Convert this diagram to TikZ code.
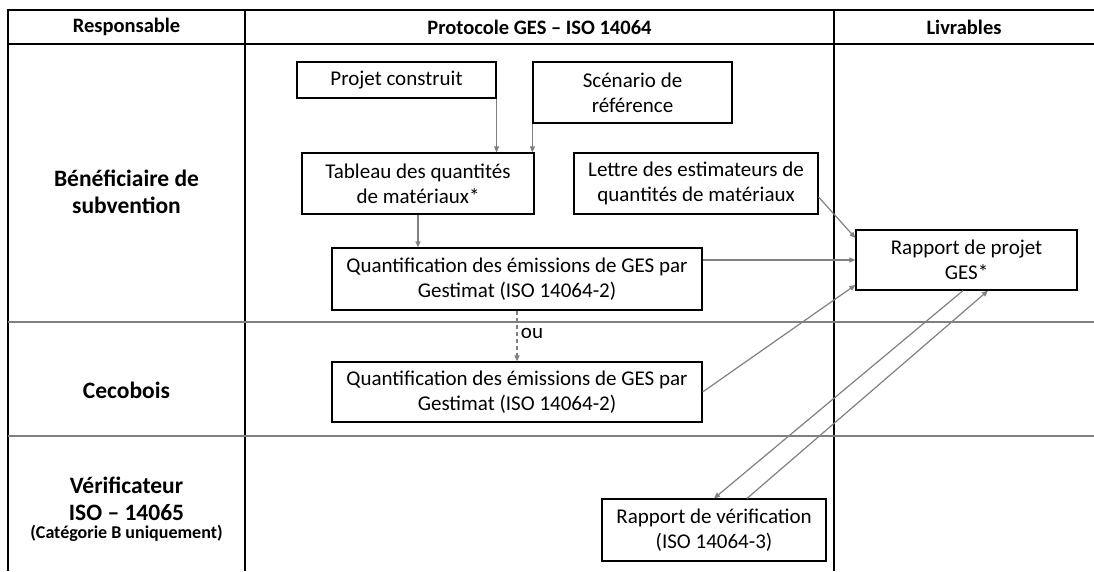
\documentclass[tikz,border=0pt]{standalone}
\usepackage{fontspec}
\setmainfont{Carlito}
\usepackage{tikz}
\usetikzlibrary{positioning,calc,arrows.meta}

\tikzset{
  box/.style={draw, rectangle, line width=1.2pt, align=center, inner sep=0pt, font=\fontsize{21}{25}\selectfont},
  flow/.style={draw=gray, line width=1.2pt, -{Triangle[length=6pt,width=5pt]}},
  head/.style={font=\bfseries\fontsize{20.5}{24}\selectfont},
  role/.style={font=\bfseries\fontsize{23.5}{27}\selectfont, align=center},
  rule/.style={line width=1.5pt},
}

\begin{document}
\begin{tikzpicture}[x=1pt, y=-1pt]
    \useasboundingbox (0,0) rectangle (1094,571);

    % table frame
    \draw[rule] (1094,10) -- (8,10) -- (8,571);
    \draw[rule] (8,44) -- (1094,44);
    \draw[rule] (245,10) -- (245,571);
    \draw[rule] (834,10) -- (834,571);
    \draw[rule, gray] (8,322) -- (1094,322);
    \draw[rule, gray] (8,436) -- (1094,436);

    % headers
    \node [head] (hresp) at (126.5,27) {Responsable};
    \node [head] (hproto) at (539.5,27) {Protocole GES -- ISO 14064};
    \node [head] (hlivr) at (964,27) {Livrables};

    % roles
    \node [role] (benef) at (126.5,192) {Bénéficiaire de\\subvention};
    \node [role] (ceco) at (126.5,390) {Cecobois};
    \node [role] (verifr) at (126.5,499) {Vérificateur\\ISO -- 14065};
    \node [font=\bfseries\fontsize{18}{22}\selectfont, below=-3pt of verifr] (categ) {(Catégorie B uniquement)};

    % boxes
    \node [box, minimum width=199pt, minimum height=36pt] (proj) at (396.5,80) {Projet construit};
    \node [box, minimum width=199pt, minimum height=61pt] (scen) at (632.5,92.5) {Scénario de\\référence};
    \node [box, minimum width=232pt, minimum height=61pt] (tab) at (418,183.5) {Tableau des quantités\\de matériaux*};
    \node [box, minimum width=244pt, minimum height=61pt] (lettre) at (696,183.5) {Lettre des estimateurs de\\quantités de matériaux};
    \node [box, minimum width=370pt, minimum height=62pt] (quant1) at (517,279) {Quantification des émissions de GES par\\Gestimat (ISO 14064-2)};
    \node [box, minimum width=370pt, minimum height=60pt] (quant2) at (517,392) {Quantification des émissions de GES par\\Gestimat (ISO 14064-2)};
    \node [box, minimum width=221pt, minimum height=60pt] (ges) at (966.5,260) {Rapport de projet\\GES*};
    \node [box, minimum width=224pt, minimum height=62pt] (verif) at (714,530) {Rapport de vérification\\(ISO 14064-3)};

    % connectors
    \draw [flow] (proj.south east) -- (proj.south east |- tab.north);
    \draw [flow] (scen.south west) -- (scen.south west |- tab.north);
    \draw [flow] (tab.south) -- (tab.south |- quant1.north);
    \draw [flow, dash pattern=on 4pt off 3pt] (quant1.south) -- node [right, pos=0.45, font=\fontsize{21}{25}\selectfont] (ou) {ou} (quant2.north);
    \draw [flow] (ges.west -| quant1.east) -- (ges.west);
    \draw [flow] ([yshift=-13.5pt]lettre.east) -- ([yshift=22pt]ges.west);
    \draw [flow] (quant2.east) -- ([yshift=-25pt]ges.west);
    \draw [flow] ([xshift=-3.5pt]ges.south) -- (verif.north);
    \draw [flow] ([xshift=33pt]verif.north) -- ([xshift=21.5pt]ges.south);
\end{tikzpicture}
\end{document}
